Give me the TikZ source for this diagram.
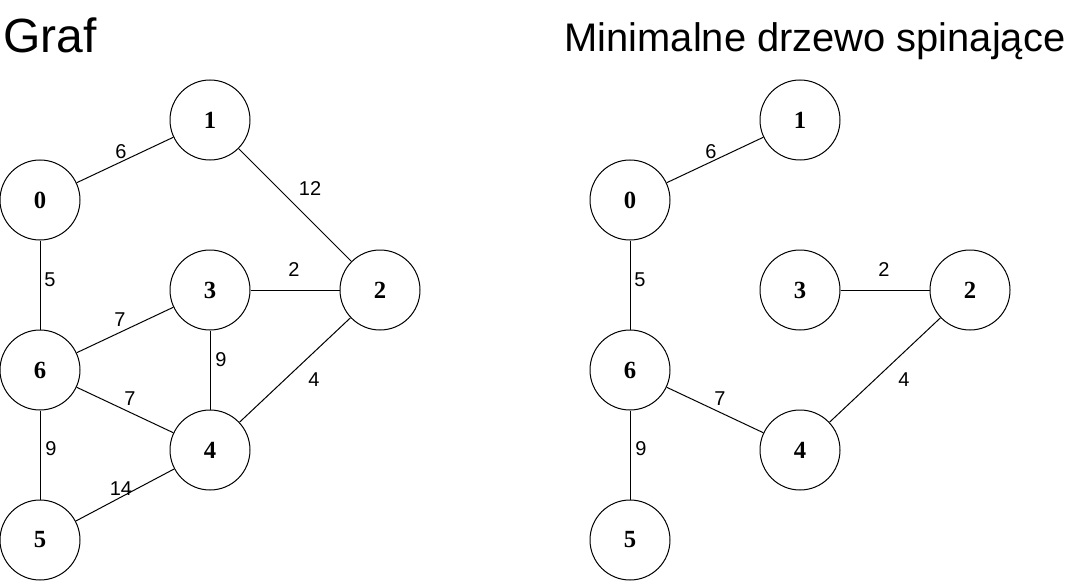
\documentclass[tikz,border=0pt]{standalone}
\usepackage{fontspec}
\setmainfont{Liberation Serif}
\setsansfont{Liberation Sans}
\usepackage{tikz}

\begin{document}
\begin{tikzpicture}[
    x=0.75pt, y=-0.75pt,
    vertex/.style={draw, circle, minimum size=60pt, inner sep=0pt, line width=0.75pt, font=\fontsize{18.5}{20}\selectfont\bfseries},
    weight/.style={inner sep=0pt, font=\sffamily\fontsize{15}{18}\selectfont},
    link/.style={line width=0.75pt},
    heading/.style={inner sep=0pt, font=\sffamily\fontsize{36}{40}\selectfont}
]
\useasboundingbox (0,0) rectangle (1081,581);

% titles
\node (tgraf) [heading, anchor=base west] at (3,53) {Graf};
\node (tmst) [heading, anchor=base, font=\sffamily\fontsize{29.9}{34}\selectfont] at (815,52) {Minimalne drzewo spinające};

% left graph
\node (a1) [vertex] at (210,120) {1};
\node (a0) [vertex] at (40,200) {0};
\node (a3) [vertex] at (210,290) {3};
\node (a2) [vertex] at (380,290) {2};
\node (a6) [vertex] at (40,370) {6};
\node (a4) [vertex] at (210,450) {4};
\node (a5) [vertex] at (40,540) {5};

\draw [link] (a0) -- node[weight, shift={(-4,-8)}] {6} (a1);
\draw [link] (a1) -- node[weight, shift={(15,-16)}] {12} (a2);
\draw [link] (a0) -- node[weight, shift={(10,-5)}] {5} (a6);
\draw [link] (a3) -- node[weight, shift={(-1,-20)}] {2} (a2);
\draw [link] (a6) -- node[weight, shift={(-5,-10)}] {7} (a3);
\draw [link] (a3) -- node[weight, shift={(11,-10)}] {9} (a4);
\draw [link] (a6) -- node[weight, shift={(5,-11)}] {7} (a4);
\draw [link] (a2) -- node[weight, shift={(19,10)}] {4} (a4);
\draw [link] (a6) -- node[weight, shift={(11,-6)}] {9} (a5);
\draw [link] (a5) -- node[weight, shift={(-4,-6)}] {14} (a4);

% right graph (spanning tree)
\node (b1) [vertex] at (800,120) {1};
\node (b0) [vertex] at (630,200) {0};
\node (b3) [vertex] at (800,290) {3};
\node (b2) [vertex] at (970,290) {2};
\node (b6) [vertex] at (630,370) {6};
\node (b4) [vertex] at (800,450) {4};
\node (b5) [vertex] at (630,540) {5};

\draw [link] (b0) -- node[weight, shift={(-4,-8)}] {6} (b1);
\draw [link] (b0) -- node[weight, shift={(10,-5)}] {5} (b6);
\draw [link] (b3) -- node[weight, shift={(-1,-20)}] {2} (b2);
\draw [link] (b6) -- node[weight, shift={(5,-11)}] {7} (b4);
\draw [link] (b2) -- node[weight, shift={(19,10)}] {4} (b4);
\draw [link] (b6) -- node[weight, shift={(11,-6)}] {9} (b5);

\end{tikzpicture}
\end{document}
